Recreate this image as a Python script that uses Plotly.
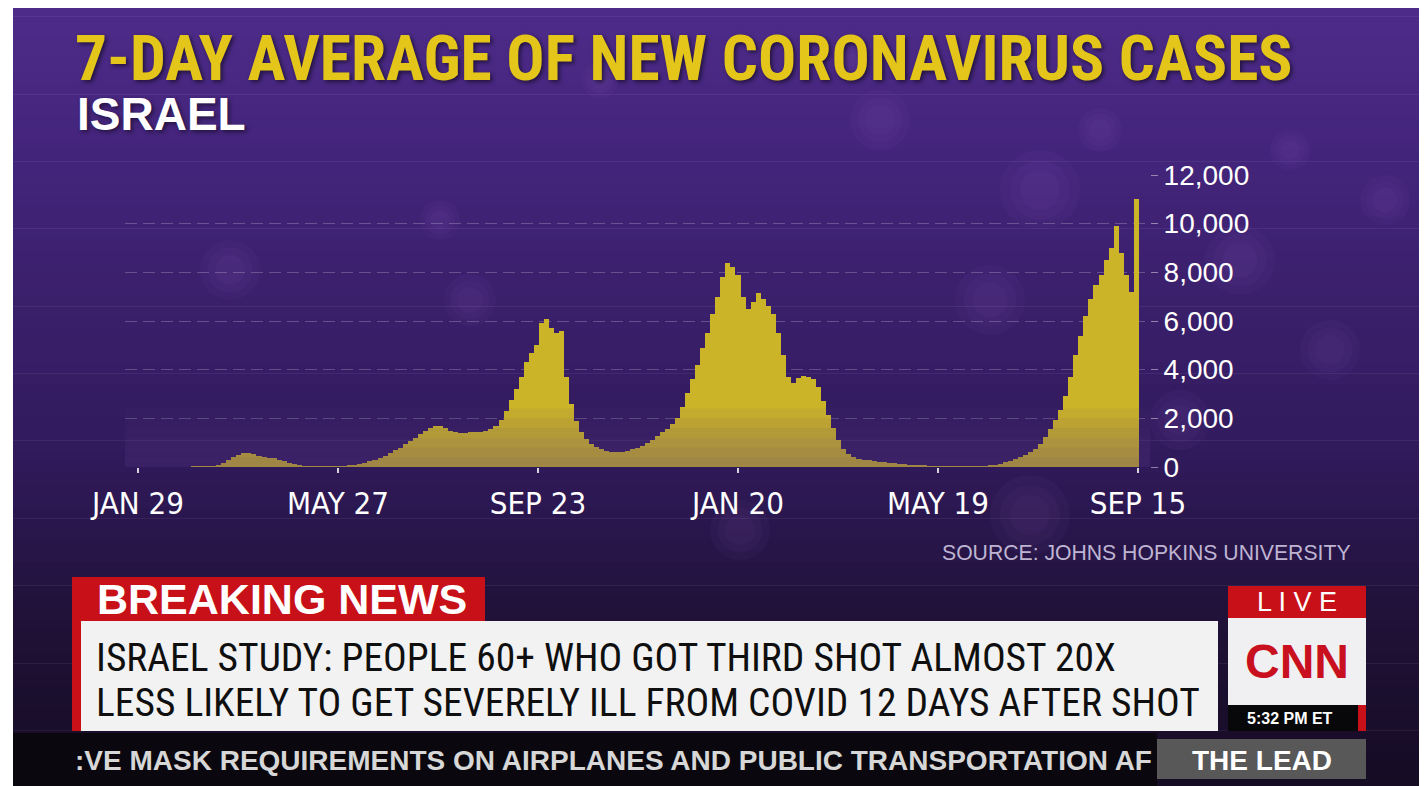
import plotly.graph_objects as go
import pandas as pd

# ---------------- data ----------------
START_DATE = "2020-01-29"
STEP_DAYS = 3
cases_7day_avg = [
    0, 0, 0, 0, 0, 0, 0, 0, 0, 0,
    0, 1, 3, 6, 12, 30, 70, 150, 280, 400,
    490, 560, 570, 520, 440, 400, 380, 350, 300, 240,
    180, 120, 70, 40, 20, 12, 10, 10, 10, 15,
    20, 30, 50, 80, 120, 170, 240, 300, 370, 460,
    560, 680, 800, 930, 1060, 1200, 1350, 1500, 1620, 1670,
    1680, 1620, 1480, 1420, 1400, 1400, 1420, 1430, 1450, 1480,
    1550, 1700, 1950, 2300, 2750, 3200, 3700, 4300, 4700, 5000,
    5900, 6100, 5700, 5500, 5600, 3700, 2600, 1900, 1450, 1150,
    950, 820, 720, 660, 630, 620, 630, 660, 720, 790,
    870, 980, 1120, 1270, 1420, 1560, 1760, 2000, 2450, 3050,
    3600, 4200, 4900, 5500, 6300, 7000, 7800, 8400, 8200, 7900,
    7000, 6500, 6800, 7150, 6900, 6600, 6300, 5500, 4600, 3700,
    3450, 3650, 3750, 3700, 3600, 3300, 2700, 2150, 1600, 1100,
    760, 520, 410, 340, 300, 270, 240, 210, 190, 170,
    150, 130, 110, 95, 80, 65, 50, 40, 30, 25,
    20, 15, 12, 10, 10, 10, 12, 15, 25, 50,
    90, 140, 200, 260, 320, 400, 500, 610, 760, 960,
    1230, 1550, 1950, 2350, 2900, 3700, 4600, 5400, 6200, 6900,
    7500, 7900, 8500, 9000, 9900, 8800, 7900, 7200, 11000,
]
x_tick_dates = ["2020-01-29", "2020-05-27", "2020-09-23", "2021-01-20", "2021-05-19", "2021-09-15"]
x_tick_labels = ["JAN 29", "MAY 27", "SEP 23", "JAN 20", "MAY 19", "SEP 15"]
y_tick_vals = [0, 2000, 4000, 6000, 8000, 10000, 12000]

TITLE = "7-DAY AVERAGE OF NEW CORONAVIRUS CASES"
SUBTITLE = "ISRAEL"
SOURCE = "SOURCE: JOHNS HOPKINS UNIVERSITY"
BREAKING = "BREAKING NEWS"
HEADLINE_1 = "ISRAEL STUDY: PEOPLE 60+ WHO GOT THIRD SHOT ALMOST 20X"
HEADLINE_2 = "LESS LIKELY TO GET SEVERELY ILL FROM COVID 12 DAYS AFTER SHOT"
TICKER = ":VE MASK REQUIREMENTS ON AIRPLANES AND PUBLIC TRANSPORTATION AF"
LIVE = "L I V E"
LOGO = "CNN"
CLOCK = "5:32 PM ET"
SHOW = "THE LEAD"

# ---------------- geometry / style ----------------
PAGE_W, PAGE_H = 1427, 786
OFF = 8                                        # browser body margin
W, H = PAGE_W - OFF, PAGE_H - OFF
L, RGT, T, BOT = 125, 1150, 175, 467           # plot area in page pixels
PX_PER_DAY = 200 / 119
FIRST_TICK_PX = 138

COND = "Roboto Condensed, Open Sans Condensed, DejaVu Sans Condensed, sans-serif"
DJC = "DejaVu Sans Condensed, sans-serif"
SANS = "Liberation Sans, Arial, sans-serif"

def px(x):
    return (x - L) / (RGT - L)

def py(y):
    return (BOT - y) / (BOT - T)

start = pd.Timestamp(START_DATE)
dates = [start + pd.Timedelta(days=STEP_DAYS * i) for i in range(len(cases_7day_avg))]
x0 = start - pd.Timedelta(days=(FIRST_TICK_PX - L) / PX_PER_DAY)
x1 = x0 + pd.Timedelta(days=(RGT - L) / PX_PER_DAY)

fig = go.Figure()
fig.add_trace(go.Bar(
    x=dates, y=cases_7day_avg,
    width=STEP_DAYS * 86400000,
    marker=dict(color="rgb(204,180,40)", line=dict(width=0)),
    hoverinfo="skip",
))

shapes = []

def rect(xa, ya, xb, yb, color, layer="below"):
    shapes.append(dict(type="rect", xref="paper", yref="paper",
                       x0=px(xa), x1=px(xb), y0=py(yb), y1=py(ya),
                       fillcolor=color, line=dict(width=0), layer=layer))

# background gradient bands
stops = [(5, (78, 44, 138)), (150, (68, 37, 124)), (300, (59, 32, 108)),
         (450, (50, 27, 93)), (540, (40, 22, 74)), (620, (32, 18, 56)), (786, (22, 12, 36))]
n = 70
for k in range(n):
    ya = 5 + (786 - 5) * k / n
    yb = 5 + (786 - 5) * (k + 1) / n + 0.6
    ym = (ya + yb) / 2
    for (s0, c0), (s1, c1) in zip(stops[:-1], stops[1:]):
        if s0 <= ym <= s1:
            f = (ym - s0) / (s1 - s0)
            c = tuple(int(c0[j] + (c1[j] - c0[j]) * f) for j in range(3))
            break
    rect(13, ya, PAGE_W + 5, min(yb, 790), "rgb(%d,%d,%d)" % c)

# soft bokeh blobs (layered circles for a blurred look)
blobs = [(470, 300, 26), (880, 120, 30), (1040, 190, 40), (1240, 260, 35),
         (1330, 350, 30), (1100, 130, 22), (600, 80, 18), (230, 270, 30),
         (990, 300, 35), (1385, 200, 25), (1030, 515, 40), (740, 530, 30),
         (1290, 150, 20), (850, 60, 15), (1180, 420, 30), (440, 220, 20)]
for bx, by, r in blobs:
    for s in (1.0, 0.75, 0.5):
        rr = r * s
        shapes.append(dict(type="circle", xref="paper", yref="paper",
                           x0=px(bx - rr), x1=px(bx + rr), y0=py(by + rr), y1=py(by - rr),
                           fillcolor="rgba(170,120,230,0.04)", line=dict(width=0), layer="below"))

# haze on the bottom of the bars
for h in (400, 800, 1200, 1600, 2000, 2400):
    shapes.append(dict(type="rect", xref="paper", yref="y", x0=0, x1=1, y0=0, y1=h,
                       fillcolor="rgba(85,50,125,0.07)", line=dict(width=0), layer="above"))

# lower-third graphics
RED = "rgb(200,16,24)"
rect(72, 577, 485, 622, RED, "above")                       # BREAKING NEWS tab
rect(72, 620, 82, 731, RED, "above")                        # red left strip
rect(81, 621, 1218, 731, "rgb(242,242,242)", "above")       # headline box
rect(13, 733, 1157, 790, "rgb(10,8,14)", "above")           # ticker strip
rect(1157, 739, 1366, 779, "rgb(88,88,88)", "above")        # THE LEAD box
rect(1228, 586, 1366, 619, RED, "above")                    # LIVE
rect(1228, 618, 1366, 705, "rgb(240,240,242)", "above")     # logo box
rect(1228, 705, 1358, 731, "rgb(8,8,10)", "above")          # clock strip
rect(1358, 705, 1366, 731, RED, "above")

annotations = []

def text(t, x, y, size, color, family, xanchor="left", yanchor="middle", shadow=None):
    f = dict(size=size, color=color, family=family)
    if shadow:
        f["shadow"] = shadow
    annotations.append(dict(text=t, x=px(x), y=py(y), xref="paper", yref="paper",
                            xanchor=xanchor, yanchor=yanchor, showarrow=False,
                            font=f, borderpad=0))

text("<b>" + TITLE + "</b>", 74, 58, 63.5, "rgb(228,198,26)", COND, shadow="2px 2px 4px rgba(0,0,0,0.55)")
text("<b>" + SUBTITLE + "</b>", 76, 114, 46, "white", SANS, shadow="2px 2px 4px rgba(0,0,0,0.5)")
text(SOURCE, 1352, 552, 21.2, "rgb(190,180,210)", SANS, xanchor="right")
text("<b>" + BREAKING + "</b>", 96, 599, 43, "white", SANS)
text(HEADLINE_1, 95, 657, 39.5, "rgb(15,15,15)", COND)
text(HEADLINE_2, 95, 702, 39.5, "rgb(15,15,15)", COND)
text("<b>" + TICKER + "</b>", 74, 760, 28, "rgb(215,215,215)", SANS)
text("<b>" + SHOW + "</b>", 1262, 760, 28, "white", SANS, xanchor="center")
text(LIVE, 1297, 602, 27, "white", SANS, xanchor="center")
text("<b>" + LOGO + "</b>", 1297, 661, 48, "rgb(200,16,30)", SANS, xanchor="center")
text("<b>" + CLOCK + "</b>", 1290, 718, 16, "white", SANS, xanchor="center")

fig.update_layout(
    width=W, height=H,
    margin=dict(l=L - OFF, r=PAGE_W - RGT, t=T - OFF, b=PAGE_H - BOT, pad=0),
    paper_bgcolor="white",
    plot_bgcolor="rgba(0,0,0,0)",
    showlegend=False,
    bargap=0,
    shapes=shapes,
    annotations=annotations,
    xaxis=dict(
        type="date", range=[x0, x1],
        tickvals=x_tick_dates, ticktext=x_tick_labels,
        tickfont=dict(size=31, color="white", family=DJC),
        ticks="outside", ticklen=5, tickwidth=2, tickcolor="rgba(255,255,255,0.8)",
        ticklabelstandoff=4,
        showgrid=False, zeroline=False, showline=False,
    ),
    yaxis=dict(
        side="right", range=[0, 12000], tickvals=y_tick_vals, tickformat=",",
        tickfont=dict(size=28, color="white", family=SANS),
        ticks="outside", ticklen=7, tickwidth=1, tickcolor="rgba(255,255,255,0.45)",
        showgrid=True, gridcolor="rgba(255,255,255,0.22)", griddash="12px,6px", gridwidth=1,
        zeroline=False, showline=False,
    ),
)

fig.write_html("out.html")
